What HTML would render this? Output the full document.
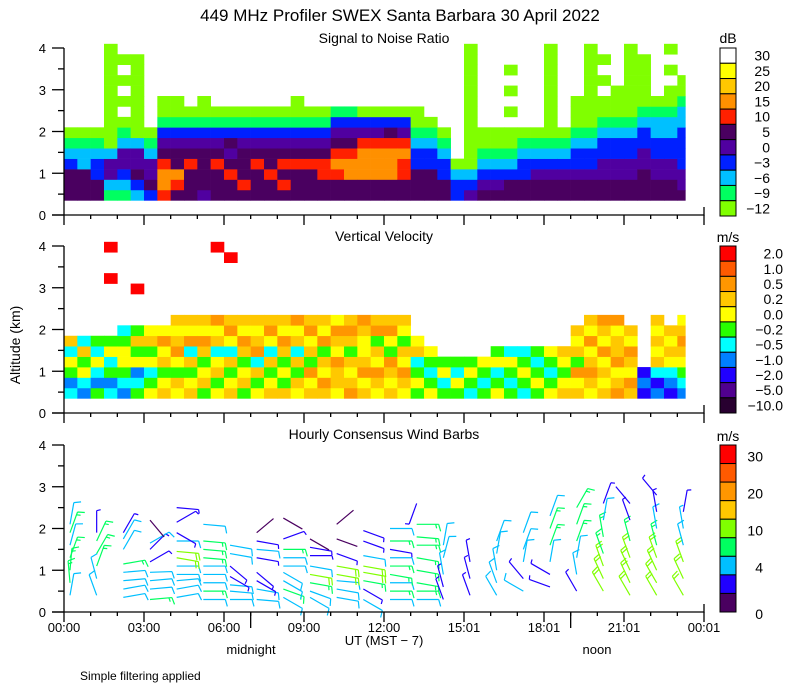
<!DOCTYPE html>
<html><head><meta charset="utf-8"><style>
body{margin:0;background:#fff;}
svg{display:block;font-family:"Liberation Sans",sans-serif;}
</style></head><body>
<svg id="chart" width="800" height="700" viewBox="0 0 800 700">
<text x="400" y="21" text-anchor="middle" font-size="17">449 MHz Profiler SWEX Santa Barbara 30 April 2022</text>
<text x="384" y="43" text-anchor="middle" font-size="14">Signal to Noise Ratio</text>
<text x="384" y="241" text-anchor="middle" font-size="14">Vertical Velocity</text>
<text x="384" y="439" text-anchor="middle" font-size="14">Hourly Consensus Wind Barbs</text>
<text x="20" y="345" text-anchor="middle" font-size="14" transform="rotate(-90 20 345)">Altitude (km)</text>
<text x="384" y="645" text-anchor="middle" font-size="13">UT  (MST − 7)</text>
<text x="251" y="654" text-anchor="middle" font-size="13">midnight</text>
<text x="597" y="654" text-anchor="middle" font-size="13">noon</text>
<text x="80" y="680" font-size="12">Simple filtering applied</text>
<g id="layers"></g>
</svg>
<script>
// ---------- data ----------
const hourTicks = ["00:00","03:00","06:00","09:00","12:00","15:01","18:01","21:01","00:01"];
const altTicks = [0,1,2,3,4];
const rowAlts = [0.35,0.6,0.85,1.1,1.35,1.6,1.85,2.1,2.35,2.6,2.85,3.1,3.35,3.6,3.85]; // row bottoms (km), height 0.25
const snrLabels = ["30","25","20","15","10","5","0","−3","−6","−9","−12"];
const snrColors = ["#80ff00","#00ff60","#00c0ff","#0020ff","#5000a0","#4a0060","#ff2000","#ff9000","#ffc800","#ffff00","#ffffff"];
// per half-hour column, bottom→top category codes ('.' = no data)
const snrCols = [
"5553210........","5552210........","5533210........","124420000000000","12344210.0.0.0.",
"23544200000000.","3544210........","6776543100.....","5675543100.....","555654310......",
"4555543100.....","555654310......","556545310......","565554310......","555654310......",
"556554310......","565654310......","5556543100.....","555654310......","556654310......",
"556765431......","557765431......","557776430......","557776430......","557776530......",
"556676430......","555332100......","55533210.......","5533210........","3320...........",
"432000000000000","5432100........","5432100........","5532100.0.0.0..","5533210........",
"5543210........","554321000000000","5543210........","5543321000.....","554332100000000",
"5544332100.0.0.","55443321000....","554433210000000","55544332100000.","5544332210.....",
"55443322100.0.0","544333322100...","..............."];
const velLabels = ["2.0","1.0","0.5","0.2","0.0","−0.2","−0.5","−1.0","−2.0","−5.0","−10.0"];
const velColors = ["#ff0000","#ff5a00","#ff9600","#ffc800","#ffff00","#28ff00","#00ffff","#0080ff","#2000ff","#500090","#280030"];
const velCols = [
"675463.........","764536.........","576465.........","675645.....0..0","7654456........",
"5674535...0....","4564534........","3453424........","43542343.......","34536243.......",
"53453243.......","45346342......0","34536423.....0.","53453243.......","45362343.......",
"34536423.......","35453243.......","43536342.......","34253423.......","32435243.......",
"43324324.......","23435323.......","34234432.......","43243523.......","34325423.......",
"43243543.......","545634.........","45654..........","5645...........","5465...........",
"6545...........","5654...........","45645..........","56546..........","65456..........",
"54565..........","45654..........","34543..........","3425343........","43234243.......",
"34342432.......","23423342.......","3243243........","878............","78634343.......",
"8764343........","76543234.......","..............."];
const windLabels = ["30","20","10","4","0"];
const windColors = ["#4a0060","#2000ff","#00bfff","#00ff60","#80ff00","#ffc800","#ff9600","#ff5a00","#ff0000"];
const windSpeedBreaks = [2,4,7,10,15,20,25,30];
// barbs: hour group, altitude km, speed m/s, direction deg (from)
const barbHour = [0,0,0,0,0,0,0, 1,1,1,1,1,1, 2,2,2,2,2,2,2,2, 3,3,3,3,3,3,3,3, 4,4,4,4,4,4,4,4,4,4,4, 5,5,5,5,5,5,5,5,5, 6,6,6,6,6,6,6, 7,7,7,7,7,7,7,7, 8,8,8,8,8,8,8,8,8, 9,9,9,9,9,9,9,9, 10,10,10,10,10,10,10,10, 11,11,11,11,11,11,11,11, 12,12,12,12,12,12,12,12,12, 13,13,13,13,13,13,13,13,13, 14,14,14,14,14, 15,15,15, 16,16,16,16,16, 17,17,17,17,17, 18,18,18,18,18,18, 19,19,19,19,19,19, 20,20,20,20,20,20,20, 21,21,21,21,21,21,21, 22,22,22,22,22,22,22,22, 23,23,23,23,23,23];
const barbAlt = [0.4,0.7,1.0,1.3,1.6,1.9,2.1, 0.4,0.8,1.1,1.4,1.7,1.9, 0.35,0.55,0.75,0.95,1.15,1.5,1.75,1.9, 0.3,0.55,0.75,0.95,1.2,1.5,1.65,2.2, 0.35,0.55,0.75,0.9,1.1,1.3,1.45,1.7,1.9,2.15,2.5, 0.3,0.5,0.7,0.9,1.1,1.3,1.5,1.7,2.1, 0.3,0.5,0.65,0.85,1.1,1.4,1.6, 0.3,0.55,0.75,0.95,1.3,1.5,1.7,1.9, 0.35,0.55,0.75,0.95,1.1,1.3,1.5,1.75,2.25, 0.35,0.5,0.7,0.9,1.1,1.35,1.55,1.75, 0.35,0.55,0.75,0.9,1.1,1.4,1.75,2.1, 0.3,0.55,0.75,0.95,1.1,1.35,1.7,1.95, 0.3,0.5,0.7,0.9,1.1,1.3,1.5,1.7,2.0, 0.3,0.5,0.7,1.0,1.3,1.6,1.8,2.1,2.6, 0.3,0.6,0.9,1.3,1.6, 0.4,0.8,1.2, 0.4,0.7,1.0,1.4,1.7, 0.5,0.8,1.2,1.5,1.9, 0.6,0.9,1.2,1.6,2.0,2.3, 0.5,0.9,1.3,1.7,2.1,2.5, 0.5,0.8,1.1,1.4,1.8,2.2,2.6, 0.4,0.7,1.0,1.3,1.7,2.2,2.6, 0.4,0.7,1.0,1.3,1.6,2.0,2.4,2.8, 0.4,0.8,1.2,1.6,2.0,2.4];
const barbSpd = [6,8,8,8,6,8,6, 6,6,8,8,8,3, 6,6,6,6,8,6,6,3, 8,6,6,6,3,3,6,1, 6,6,6,6,6,12,12,6,3,3,3, 6,8,6,6,6,8,8,8,6, 6,6,6,3,3,6,6, 6,6,3,3,3,6,3,1, 6,8,6,6,6,6,8,3,1, 6,6,8,12,6,3,3,1, 6,6,6,12,12,3,1,1, 6,3,8,12,12,6,3,3, 6,8,6,8,8,6,3,8,6, 6,8,8,8,8,8,8,8,3, 3,3,6,6,6, 3,3,3, 6,6,6,6,6, 6,3,6,6,6, 3,3,6,8,8,6, 3,6,6,8,8,8, 10,10,10,8,8,6,3, 12,12,12,10,8,3,2, 12,12,10,10,8,6,3,3, 12,10,10,6,4,3];
const barbDir = [10,355,5,20,15,20,10, 340,345,20,30,25,0, 80,80,85,85,80,30,30,30, 85,85,85,88,60,45,60,140, 80,80,85,90,90,100,95,90,120,60,95, 90,90,90,90,90,95,95,95,95, 90,95,95,120,130,100,100, 95,100,120,130,100,95,100,50, 120,110,120,120,90,90,90,70,120, 120,110,100,100,100,90,100,120, 100,100,95,100,100,110,110,50, 120,120,100,100,100,100,110,110, 90,90,90,100,90,90,100,90,90, 90,90,100,100,100,90,95,90,200, 340,345,350,15,10, 340,345,350, 330,340,350,10,20, 300,320,10,20,20, 290,300,10,20,20,20, 330,350,10,20,20,30, 330,335,340,340,350,10,20, 330,335,335,340,345,340,320, 330,330,335,340,345,350,350,320, 330,335,340,345,350,10];

// ---------- helpers ----------
const NS = "http://www.w3.org/2000/svg";
const root = document.getElementById("layers");
const X0 = 64, PXH = 640/24;
function xScale(h){ return X0 + h*PXH; }
const panelBase = [215, 413, 612];
const PXK = 41.75;
function yScale(p, km){ return panelBase[p] - km*PXK; }
function mk(tag, attrs, parent){
  const e = document.createElementNS(NS, tag);
  for (const k in attrs) e.setAttribute(k, attrs[k]);
  (parent||root).appendChild(e);
  return e;
}
function codeIdx(ch){ return ch==="a" ? 10 : parseInt(ch,10); }

// ---------- heatmaps ----------
function drawHeat(p, cols, colors, name){
  const g = mk("g", {});
  
  
  cols.forEach((col, c) => {
    const h0 = c*0.5;
    let hEnd = Math.min(h0+0.5, 23.3);
    if (hEnd <= h0) return;
    for (let r=0; r<col.length; r++){
      const ch = col[r];
      if (ch === ".") continue;
      const y1 = yScale(p, rowAlts[r]+0.25), y0 = yScale(p, rowAlts[r]);
      const rect = mk("rect", {x: xScale(h0), y: y1, width: xScale(hEnd)-xScale(h0)+0.3, height: y0-y1+0.3, fill: colors[codeIdx(ch)]}, g);
      
      
    }
  });
}
drawHeat(0, snrCols, snrColors, "snr-heatmap");
drawHeat(1, velCols, velColors, "velocity-heatmap");

// ---------- wind barbs ----------
function speedColor(s){
  let i=0; while(i<windSpeedBreaks.length && s>=windSpeedBreaks[i]) i++;
  return windColors[i];
}
const gb = mk("g", {"stroke-width":1.2, fill:"none"});


for (let i=0;i<barbHour.length;i++){
  const sx = xScale(barbHour[i]) + 6, sy = yScale(2, barbAlt[i]);
  const a = barbDir[i]*Math.PI/180;
  const dx = Math.sin(a), dy = -Math.cos(a);
  const L = 22, tx = sx+dx*L, ty = sy+dy*L;
  const col = speedColor(barbSpd[i]);
  let d = `M${sx},${sy}L${tx},${ty}`;
  const fx = -dy, fy = dx;
  let full = Math.floor(barbSpd[i]/5), half = (barbSpd[i]%5)>=2.5 ? 1 : 0;
  let pos = 0;
  for (let k=0;k<full;k++){ const px=tx-dx*pos, py=ty-dy*pos; d += `M${px},${py}l${fx*7+dx*2},${fy*7+dy*2}`; pos+=3; }
  if (half){ const px=tx-dx*pos, py=ty-dy*pos; d += `M${px},${py}l${fx*4+dx*1},${fy*4+dy*1}`; }
  const path = mk("path", {d: d, stroke: col}, gb);
  
  
}

// ---------- axes ----------
for (let p=0;p<3;p++){
  const ga = mk("g", {stroke:"#000", "stroke-width":1.3, fill:"none"});
  
  
  const yb = panelBase[p];
  mk("path", {d:`M64,${yScale(p,4)}V${yb}M52,${yb}H704V${yb-8}`}, ga);
  altTicks.forEach(v => { mk("path", {d:`M52,${yScale(p,v)}H64`}, ga); });
  for (let v=0.5; v<4; v+=1) mk("path", {d:`M58,${yScale(p,v)}H64`}, ga);
  for (let h=0; h<=24; h++){
    const len = (h%3===0) ? 10 : 4;
    mk("path", {d:`M${xScale(h)},${yb}V${yb+len}`}, ga);
  }
  if (p===2){
    mk("path", {d:`M${xScale(7)},${yb}V${yb+16}M${xScale(19)},${yb}V${yb+16}`}, ga);
  }
  altTicks.forEach(v => {
    const t = mk("text", {x:46, y:yScale(p,v)+5, "text-anchor":"end", "font-size":13, stroke:"none", fill:"#000"}, ga);
    t.textContent = v;
    
    
  });
}
hourTicks.forEach((lab, i) => {
  const t = mk("text", {x:xScale(i*3), y:632, "text-anchor":"middle", "font-size":13});
  t.textContent = lab;
  
  
});

// ---------- colorbars ----------
function colorbar(top, bottom, colorsTopDown, labels, labelX, labelYs, unit, unitY, name){
  const g = mk("g", {});
  
  
  const n = colorsTopDown.length, h = (bottom-top)/n;
  colorsTopDown.forEach((c,i) => {
    const r = mk("rect", {x:720, y:top+i*h, width:16, height:h, fill:c, stroke:"#000", "stroke-width":1}, g);
    
    
  });
  labels.forEach((l,i) => {
    const t = mk("text", {x:labelX, y:labelYs(i, h), "text-anchor":"end", "font-size":14}, g);
    t.textContent = l;
    
    
  });
  const u = mk("text", {x:728, y:unitY, "text-anchor":"middle", "font-size":14}, g);
  u.textContent = unit;
  
  
}
colorbar(48, 216, snrColors.slice().reverse(), snrLabels, 770, (i,h)=>48+i*h+h/2+5, "dB", 43, "snr-colorbar");
colorbar(246, 413, velColors, velLabels, 783, (i,h)=>246+i*h+h/2+5, "m/s", 242, "velocity-colorbar");
colorbar(445, 612, windColors.slice().reverse(), windLabels, 763, (i,h)=>445+(1+i*2)*h+5 - (i===4? -h*0.5 : 0) - h/2 + 2, "m/s", 441, "wind-colorbar");
</script>
</body></html>
